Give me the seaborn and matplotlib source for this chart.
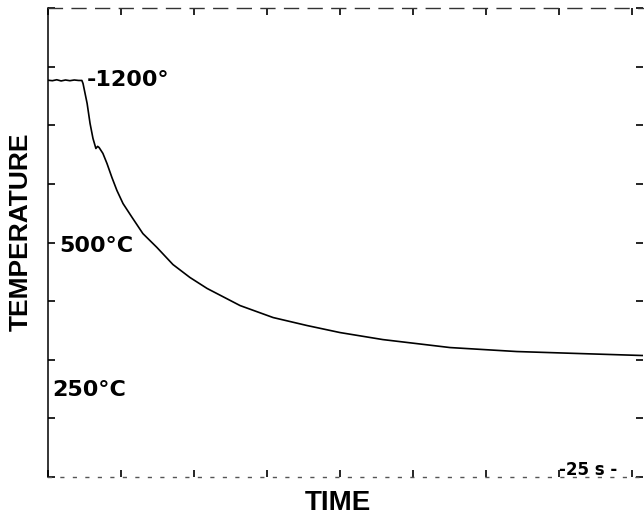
import matplotlib
matplotlib.use("Agg")
import matplotlib.pyplot as plt
import seaborn as sns
import pandas as pd

# Cooling curve (time in s, temperature in °C)
time_s = [0.0, 1.5, 3.0, 4.5, 6.0, 7.5, 9.0, 10.5, 11.6, 12.0, 13.4, 14.4,
          15.4, 16.4, 17.0, 17.5, 18.8, 20.2, 21.9, 23.6, 25.7, 28.8, 32.5,
          37.3, 42.8, 48.6, 54.5, 65.8, 77.1, 88.7, 100.0, 114.7, 137.7,
          160.6, 183.2, 203.8]
temp_c = [1192, 1190, 1194, 1189, 1193, 1190, 1193, 1191, 1191, 1178, 1093, 1008,
          944, 901, 910, 905, 880, 837, 777, 722, 666, 607, 538,
          479, 406, 351, 304, 231, 180, 146, 116, 86, 52,
          35, 26, 18]

x_ticks = [0, 25, 50, 75, 100, 125, 150, 175, 200]
y_ticks = [-500, -250, 0, 250, 500, 750, 1000, 1250, 1500]

df = pd.DataFrame({"time": time_s, "temp": temp_c})

sns.set_style("ticks")
plt.rcParams['font.family'] = ['DejaVu Sans']
plt.rcParams['text.color'] = 'black'

fig = plt.figure(figsize=(6.44, 5.23), dpi=100)
ax = fig.add_axes([48/644, 46/523, 595/644, 469/523])

sns.lineplot(data=df, x="time", y="temp", ax=ax, color="black", linewidth=1.2)

ax.set_xlim(0, 203.8)
ax.set_ylim(-500, 1500)
ax.set_xticks(x_ticks)
ax.set_yticks(y_ticks)
ax.set_xticklabels([])
ax.set_yticklabels([])
ax.tick_params(axis="both", direction="in", length=5, width=1.2, color="black",
               top=True, right=True)
ax.set_xlabel("")
ax.set_ylabel("")

ax.spines["left"].set_color("black")
ax.spines["left"].set_linewidth(1.1)
ax.spines["right"].set_visible(False)
ax.spines["top"].set_color("#333333")
ax.spines["top"].set_linewidth(1.0)
ax.spines["top"].set_linestyle((0, (10, 7)))
ax.spines["bottom"].set_color("#555555")
ax.spines["bottom"].set_linewidth(1.0)
ax.spines["bottom"].set_linestyle((0, (2, 7)))

lab = dict(fontsize=16, fontweight="bold", family="DejaVu Sans", va="center",
           ha="left", color="black")
ax.text(13.4, 1192, "-1200°", **lab)
ax.text(4.0, 487, "500°C", **lab)
ax.text(1.6, -127, "250°C", **lab)
ax.text(175.0, -470, "-25 s -", fontsize=12, fontweight="bold", family="DejaVu Sans",
        va="center", ha="left", color="black")

fig.text(21/644, 1 - 232/523, "TEMPERATURE", rotation=90, fontsize=19,
         fontweight="bold", family="Liberation Sans", ha="center", va="center",
         color="black")
fig.text(338/644, 1 - 503/523, "TIME", fontsize=20, fontweight="bold",
         family="Liberation Sans", ha="center", va="center", color="black")

fig.savefig("out.png", dpi=100, facecolor="white")
